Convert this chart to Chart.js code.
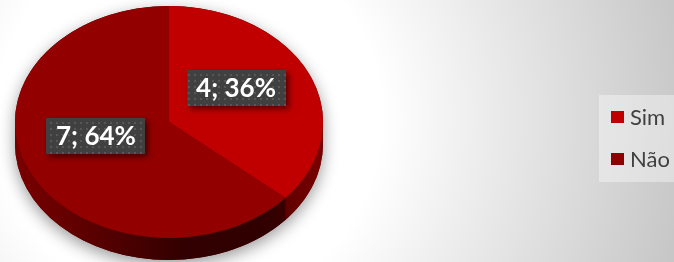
<!DOCTYPE html>
<html>
<head>
<meta charset="utf-8">
<script src="https://cdn.jsdelivr.net/npm/chart.js@4/dist/chart.umd.min.js"></script>
<style>
  html, body { margin: 0; padding: 0; }
  body {
    width: 674px; height: 262px; overflow: hidden; position: relative;
    background: radial-gradient(circle at 28% 45%, #ffffff 0%, #ffffff 38%, #c6c6c6 100%);
    font-family: Lato, "Open Sans", sans-serif;
  }
  #wrap { position: absolute; left: 0; top: 0; width: 674px; height: 262px; }
  #legend {
    position: absolute; left: 599px; top: 95px; width: 75px; height: 87px;
    background: rgba(255,255,255,0.38);
  }
  .item { position: absolute; left: 12px; height: 24px; line-height: 24px; font-size: 22px; color: #404040; white-space: nowrap; }
  .sw { display: inline-block; width: 13px; height: 12px; margin-right: 6px; vertical-align: 2px; }
</style>
</head>
<body>
<div id="wrap"><canvas id="c" width="674" height="262"></canvas></div>
<div id="legend"></div>
<script>
const categories = ['Sim', 'Não'];
const values = [4, 7];
const sliceColors = ['#C00000', '#930000'];
const legendColors = ['#C00000', '#8B0000'];

// legend
const legendEl = document.getElementById('legend');
categories.forEach((c, i) => {
  const d = document.createElement('div');
  d.className = 'item';
  d.style.top = (10 + i * 42) + 'px';
  d.innerHTML = '<span class="sw" style="background:' + legendColors[i] + '"></span>' + c;
  legendEl.appendChild(d);
});

const SX = 154 / 116;   // horizontal stretch to make the ellipse
const DEPTH = 22;

function dotPattern(ctx) {
  const p = document.createElement('canvas');
  p.width = 6; p.height = 6;
  const g = p.getContext('2d');
  g.fillStyle = '#404040'; g.fillRect(0, 0, 6, 6);
  g.fillStyle = '#575757'; g.fillRect(2, 2, 2, 2);
  return ctx.createPattern(p, 'repeat');
}

const pie3d = {
  id: 'pie3d',
  beforeDatasetsDraw(chart) {
    const ctx = chart.ctx;
    const meta = chart.getDatasetMeta(0);
    const a0 = meta.data[0];
    const cx = a0.x, cy = a0.y, r = a0.outerRadius;
    ctx.save();
    ctx.translate(cx, cy); ctx.scale(SX, 1); ctx.translate(-cx, -cy);
    // shadow of whole body
    ctx.save();
    ctx.shadowColor = 'rgba(0,0,0,0.4)';
    ctx.shadowBlur = 16;
    ctx.shadowOffsetY = 5;
    ctx.beginPath();
    ctx.arc(cx, cy, r, Math.PI, 0, false);
    ctx.lineTo(cx + r, cy + DEPTH);
    ctx.arc(cx, cy + DEPTH, r, 0, Math.PI, false);
    ctx.closePath();
    ctx.fillStyle = '#500000';
    ctx.fill();
    ctx.restore();
    // sides
    const grads = [
      [[0, '#700000'], [0.6, '#3a0000'], [0.85, '#5a0000'], [1, '#7a0000']],
      [[0, '#7a0000'], [0.25, '#5a0000'], [0.55, '#320000'], [0.8, '#300000'], [1, '#450000']]
    ];
    meta.data.forEach((el, i) => {
      const s = Math.max(el.startAngle, 0);
      const e = Math.min(el.endAngle, Math.PI);
      if (e <= s) return;
      const g = ctx.createLinearGradient(cx - r, 0, cx + r, 0);
      grads[i].forEach(st => g.addColorStop(st[0], st[1]));
      ctx.beginPath();
      ctx.arc(cx, cy, r, s, e, false);
      ctx.arc(cx, cy + DEPTH, r, e, s, true);
      ctx.closePath();
      ctx.fillStyle = g;
      ctx.fill();
    });
  },
  afterDatasetsDraw(chart) {
    chart.ctx.restore();
  },
  afterDraw(chart) {
    const ctx = chart.ctx;
    const meta = chart.getDatasetMeta(0);
    const total = values.reduce((a, b) => a + b, 0);
    const pat = dotPattern(ctx);
    meta.data.forEach((el, i) => {
      const p = el.tooltipPosition();
      const x = el.x + (p.x - el.x) * SX - 3;
      const y = p.y - 10;
      const txt = values[i] + '; ' + Math.round(values[i] / total * 100) + '%';
      ctx.save();
      const w = 99, h = 36;
      ctx.shadowColor = 'rgba(0,0,0,0.55)';
      ctx.shadowBlur = 6;
      ctx.shadowOffsetX = 3; ctx.shadowOffsetY = 3;
      ctx.fillStyle = pat;
      ctx.fillRect(Math.round(x - w / 2), Math.round(y - h / 2), w, h);
      ctx.restore();
      ctx.save();
      ctx.font = 'bold 26px Lato, "Open Sans", sans-serif';
      ctx.fillStyle = '#ffffff';
      ctx.textAlign = 'center';
      ctx.textBaseline = 'middle';
      ctx.fillText(txt, x, y + 1);
      ctx.restore();
    });
  }
};

new Chart(document.getElementById('c'), {
  type: 'pie',
  data: {
    labels: categories,
    datasets: [{ data: values, backgroundColor: sliceColors, borderWidth: 0, clip: false }]
  },
  options: {
    responsive: false,
    animation: false,
    layout: { padding: { left: 53, top: 6, right: 389, bottom: 24 } },
    plugins: { legend: { display: false }, tooltip: { enabled: false } },
    events: []
  },
  plugins: [pie3d]
});
</script>
</body>
</html>
